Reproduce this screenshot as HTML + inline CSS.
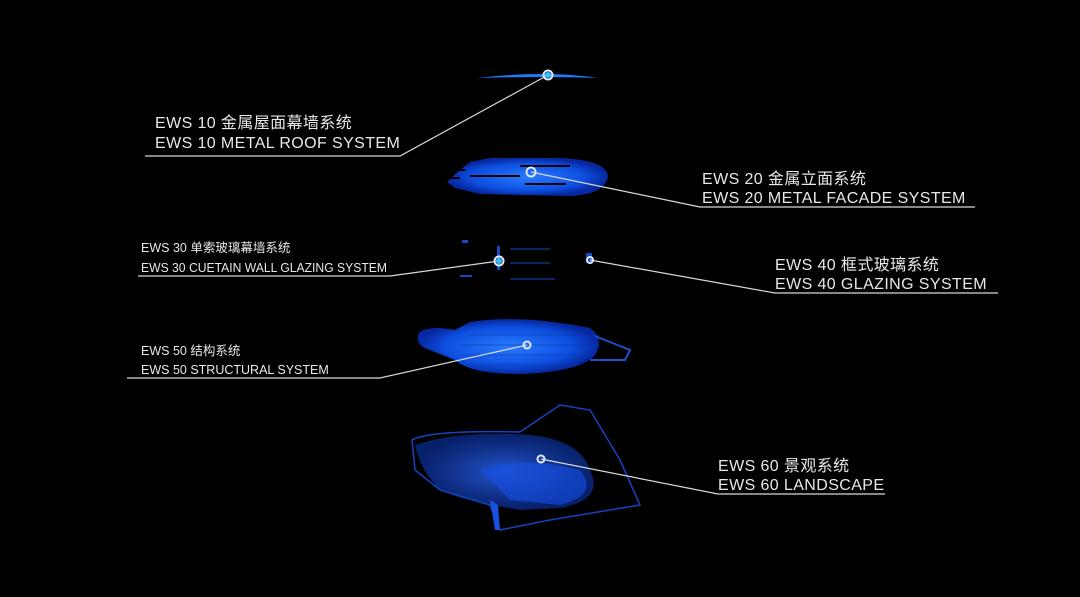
<!DOCTYPE html>
<html><head><meta charset="utf-8"><style>
html,body{margin:0;padding:0;background:#000;}
svg{display:block}
text{font-family:"Liberation Sans","Noto Sans CJK SC",sans-serif;fill:#e8e8e8;}
</style></head><body>
<svg width="1080" height="597" viewBox="0 0 1080 597" xmlns="http://www.w3.org/2000/svg">
<defs>
<radialGradient id="g1" cx="50%" cy="50%" r="50%"><stop offset="0" stop-color="#2a7bff"/><stop offset="0.7" stop-color="#0d4fe0"/><stop offset="1" stop-color="#0628a0"/></radialGradient>
<radialGradient id="g2" cx="50%" cy="50%" r="50%"><stop offset="0" stop-color="#2a66f0" stop-opacity="0.85"/><stop offset="1" stop-color="#0c35b0" stop-opacity="0.6"/></radialGradient>
</defs>
<rect width="1080" height="597" fill="#000"/>

<!-- roof -->
<path d="M477 78 Q548 70 597 78 Q548 76 477 78 Z" fill="#1a7cff"/>
<!-- facade -->
<path d="M447 182 L460 170 L470 162 L490 158 L560 158 Q606 160 608 176 Q606 194 570 196 L480 194 L455 188 Z" fill="url(#g1)"/>
<g stroke="#000" stroke-width="2"><line x1="520" y1="166" x2="570" y2="166"/><line x1="525" y1="184" x2="566" y2="184"/><line x1="470" y1="176" x2="520" y2="176"/><line x1="447" y1="170" x2="465" y2="170"/><line x1="447" y1="178" x2="460" y2="178"/></g>
<!-- curtain wall -->
<g fill="#1a5cf0" opacity="0.8">
<rect x="462" y="240" width="6" height="3"/><rect x="497" y="246" width="3" height="24"/><rect x="510" y="248" width="40" height="2" opacity="0.5"/><rect x="510" y="262" width="40" height="2" opacity="0.5"/><rect x="460" y="275" width="12" height="2"/><rect x="510" y="278" width="45" height="2" opacity="0.5"/><rect x="586" y="253" width="6" height="10"/>
</g>
<!-- structure -->
<path d="M418 336 Q418 328 440 328 L455 330 L470 322 Q520 314 590 328 Q605 340 595 355 Q580 372 520 374 Q470 374 455 360 L430 350 Q416 346 418 336 Z" fill="url(#g1)"/>
<path d="M595 336 L630 350 L625 360 L590 360" fill="none" stroke="#1a4fd0" stroke-width="2"/>
<g stroke="#063aa8" stroke-width="1" opacity="0.6">
<line x1="470" y1="335" x2="600" y2="335"/><line x1="460" y1="345" x2="600" y2="345"/><line x1="460" y1="355" x2="590" y2="355"/><line x1="465" y1="365" x2="580" y2="365"/>
</g>
<!-- landscape -->
<path d="M412 440 Q430 430 520 432 L560 405 L590 410 L620 460 L640 505 L550 520 L500 530 L490 505 L440 490 L415 470 Z" fill="none" stroke="#1444c0" stroke-width="1.5"/>
<path d="M415 445 Q460 430 530 435 Q580 440 590 470 Q605 500 560 508 L520 510 Q460 500 440 490 Q420 470 415 445 Z" fill="url(#g2)"/>
<path d="M480 470 Q520 455 580 470 Q600 495 560 505 L510 500 Z" fill="#1650e8" opacity="0.6"/>
<path d="M490 500 L495 530 L500 530 L498 505" fill="#1a50e0"/>

<!-- leader lines -->
<g stroke="#d8d8d8" stroke-width="1.2" fill="none">
<polyline points="145,156 400,156 548,75"/>
<polyline points="531,172 700,207 975,207"/>
<polyline points="138,276 390,276 499,261"/>
<polyline points="590,260 775,293 998,293"/>
<polyline points="127,378 380,378 527,345"/>
<polyline points="541,459 718,494 885,494"/>
</g>
<g fill="none" stroke="#e0e8ff" stroke-width="2">
<circle cx="548" cy="75" r="4.5"/><circle cx="531" cy="172" r="4.5"/><circle cx="499" cy="261" r="4.5"/><circle cx="590" cy="260" r="3"/><circle cx="527" cy="345" r="3.5"/><circle cx="541" cy="459" r="3.5"/>
</g>
<circle cx="548" cy="75" r="3" fill="#30c0ff"/><circle cx="499" cy="261" r="3" fill="#30c0ff"/>

<!-- labels -->
<g font-size="16" letter-spacing="0.4">
<text x="155" y="128">EWS 10 金属屋面幕墙系统</text>
<text x="155" y="148">EWS 10 METAL ROOF SYSTEM</text>
<text x="702" y="184">EWS 20 金属立面系统</text>
<text x="702" y="203">EWS 20 METAL FACADE SYSTEM</text>
<text x="775" y="270">EWS 40 框式玻璃系统</text>
<text x="775" y="289">EWS 40 GLAZING SYSTEM</text>
<text x="718" y="471">EWS 60 景观系统</text>
<text x="718" y="490">EWS 60 LANDSCAPE</text>
</g>
<g font-size="12.5">
<text x="141" y="252">EWS 30 单索玻璃幕墙系统</text>
<text x="141" y="272" textLength="246" lengthAdjust="spacingAndGlyphs">EWS 30 CUETAIN WALL GLAZING SYSTEM</text>
<text x="141" y="355">EWS 50 结构系统</text>
<text x="141" y="374">EWS 50 STRUCTURAL SYSTEM</text>
</g>
</svg>
</body></html>
